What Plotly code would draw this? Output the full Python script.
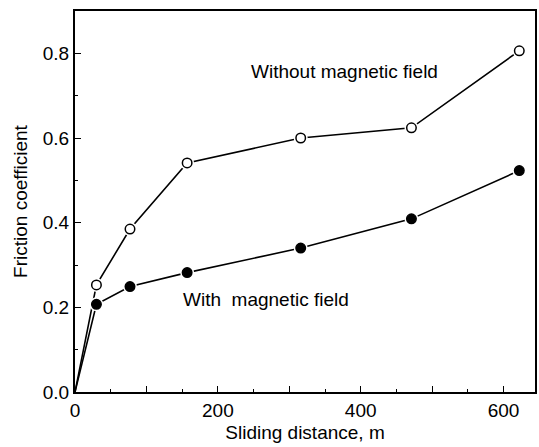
import plotly.graph_objects as go

# Data
distance = [0, 30, 77, 157, 316, 471, 622]
without_field = [0.0, 0.253, 0.385, 0.541, 0.600, 0.624, 0.806]
with_field = [0.0, 0.207, 0.249, 0.282, 0.340, 0.409, 0.523]

x_tickvals = [0, 100, 200, 300, 400, 500, 600]
x_ticktext = ["0", "", "200", "", "400", "", "600"]
y_tickvals = [0.0, 0.2, 0.4, 0.6, 0.8]
y_ticktext = ["0.0", "0.2", "0.4", "0.6", "0.8"]

FONT = "Liberation Sans, Arial, sans-serif"
FS = 19
fig = go.Figure()

for ys, filled in [(without_field, False), (with_field, True)]:
    fig.add_trace(go.Scatter(x=distance, y=ys, mode="lines",
                             line=dict(color="black", width=1.6),
                             showlegend=False, hoverinfo="skip"))
    # white halo to create gaps between line and markers
    fig.add_trace(go.Scatter(x=distance[1:], y=ys[1:], mode="markers",
                             marker=dict(size=14, color="white", line=dict(width=0)),
                             showlegend=False, hoverinfo="skip"))
    fig.add_trace(go.Scatter(x=distance[1:], y=ys[1:], mode="markers",
                             marker=dict(size=9.5, color="black" if filled else "white",
                                         line=dict(color="black", width=1.5)),
                             showlegend=False))

fig.add_annotation(x=377, y=0.757, xref="x", yref="y", text="Without magnetic field",
                   showarrow=False, font=dict(family=FONT, size=FS, color="black"))
fig.add_annotation(x=267, y=0.218, xref="x", yref="y", text="With&nbsp;&nbsp;magnetic field",
                   showarrow=False, font=dict(family=FONT, size=FS, color="black"))

fig.update_xaxes(range=[0, 644], tickvals=x_tickvals, ticktext=x_ticktext,
                 ticks="inside", ticklen=6, tickwidth=1.2, tickcolor="black",
                 minor=dict(dtick=50, ticks="inside", ticklen=3, tickcolor="black", tickwidth=1),
                 showline=True, linecolor="black", linewidth=2, mirror=True,
                 showgrid=False, zeroline=False,
                 tickfont=dict(family=FONT, size=FS, color="black"),
                 title=dict(text="Sliding distance, m", standoff=6,
                            font=dict(family=FONT, size=FS, color="black")))
fig.update_yaxes(range=[0, 0.9], tickvals=y_tickvals, ticktext=y_ticktext,
                 ticks="inside", ticklen=6, tickwidth=1.2, tickcolor="black",
                 minor=dict(dtick=0.1, ticks="inside", ticklen=3, tickcolor="black", tickwidth=1),
                 showline=True, linecolor="black", linewidth=2, mirror=True,
                 showgrid=False, zeroline=False,
                 tickfont=dict(family=FONT, size=FS, color="black"),
                 title=dict(text="Friction coefficient", standoff=10,
                            font=dict(family=FONT, size=FS, color="black")))

fig.update_layout(width=539, height=447,
                  margin=dict(l=75, r=2, t=11, b=55),
                  plot_bgcolor="white", paper_bgcolor="white",
                  font=dict(family=FONT, color="black"))

fig.write_html("out.html")
